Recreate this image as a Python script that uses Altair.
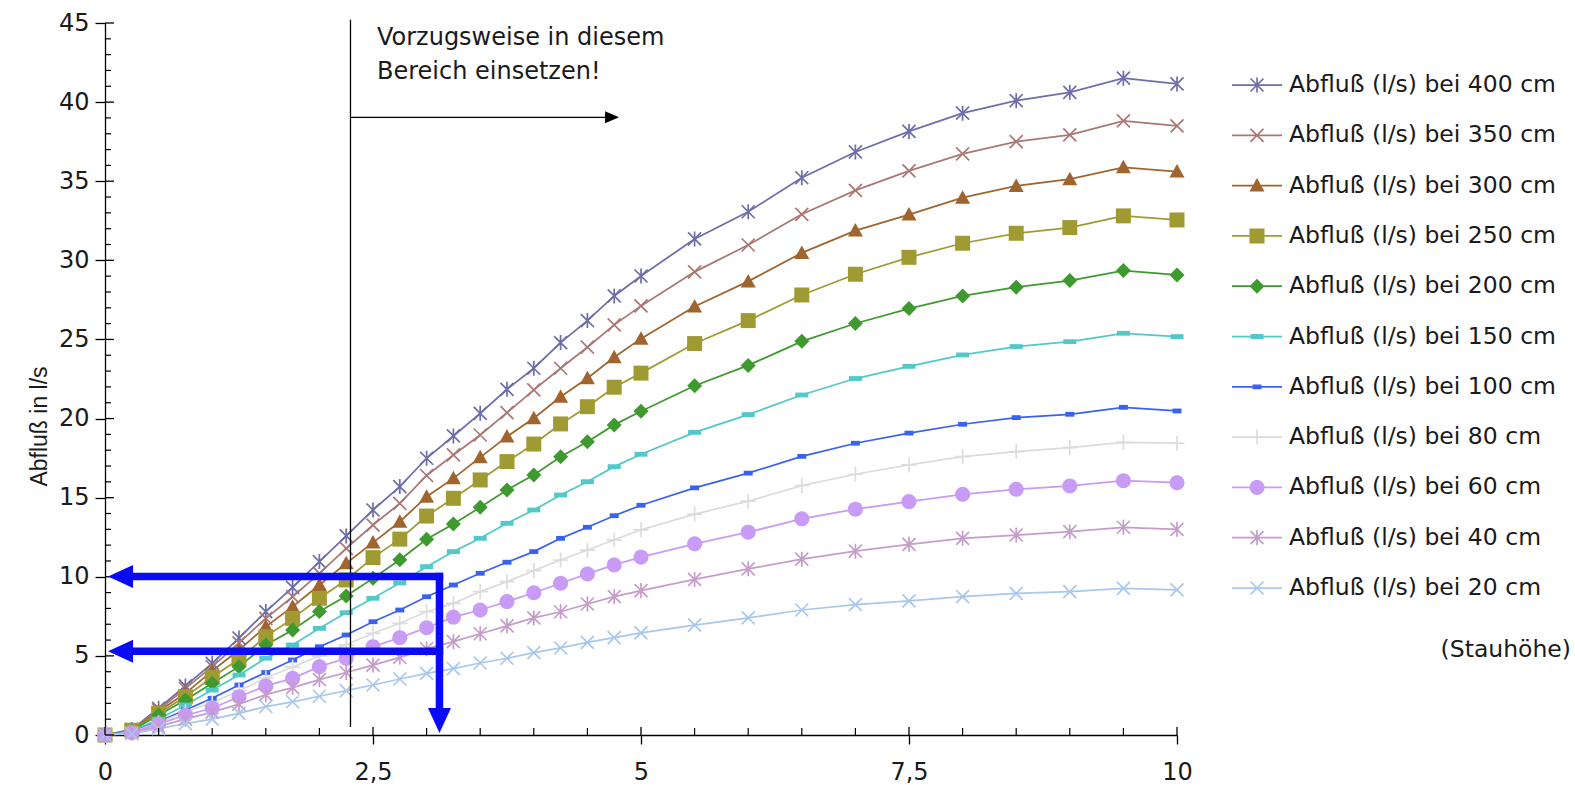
import math
import altair as alt
import pandas as pd

# ---------------- data ----------------
x_vals = [0, 0.25, 0.5, 0.75, 1, 1.25, 1.5, 1.75, 2, 2.25, 2.5, 2.75, 3, 3.25, 3.5,
          3.75, 4, 4.25, 4.5, 4.75, 5, 5.5, 6, 6.5, 7, 7.5, 8, 8.5, 9, 9.5, 10]

q400 = [0, 0.35, 1.69, 3.10, 4.53, 6.13, 7.80, 9.33, 10.96, 12.58, 14.22, 15.70, 17.49, 18.90, 20.33,
        21.85, 23.18, 24.80, 26.19, 27.75, 29.01, 31.35, 33.07, 35.22, 36.85, 38.15, 39.30, 40.09, 40.62, 41.51, 41.15]
q350 = [0, 0.33, 1.58, 2.95, 4.32, 5.82, 7.37, 8.74, 10.22, 11.80, 13.27, 14.64, 16.40, 17.70, 18.96,
        20.37, 21.81, 23.18, 24.51, 25.92, 27.12, 29.27, 30.97, 32.91, 34.42, 35.65, 36.73, 37.50, 37.93, 38.81, 38.50]
q300 = [0, 0.30, 1.50, 2.63, 4.05, 5.37, 6.85, 8.11, 9.48, 10.85, 12.16, 13.48, 15.06, 16.22, 17.55,
        18.86, 20.02, 21.38, 22.55, 23.87, 25.05, 27.08, 28.67, 30.47, 31.88, 32.89, 33.96, 34.70, 35.13, 35.88, 35.61]
q250 = [0, 0.30, 1.37, 2.42, 3.65, 4.80, 6.21, 7.37, 8.64, 9.80, 11.21, 12.38, 13.84, 14.96, 16.12,
        17.28, 18.39, 19.66, 20.75, 21.98, 22.87, 24.74, 26.19, 27.81, 29.12, 30.19, 31.08, 31.71, 32.07, 32.81, 32.55]
q200 = [0, 0.27, 1.26, 2.21, 3.27, 4.32, 5.69, 6.64, 7.80, 8.79, 9.90, 11.08, 12.37, 13.34, 14.39,
        15.49, 16.43, 17.59, 18.54, 19.60, 20.46, 22.07, 23.36, 24.88, 26.01, 26.95, 27.75, 28.30, 28.72, 29.35, 29.08]
q150 = [0, 0.23, 1.00, 1.90, 2.84, 3.79, 4.85, 5.69, 6.74, 7.73, 8.64, 9.61, 10.64, 11.59, 12.43,
        13.38, 14.22, 15.17, 16.01, 16.96, 17.74, 19.13, 20.25, 21.49, 22.53, 23.30, 24.02, 24.55, 24.86, 25.39, 25.18]
q100 = [0, 0.19, 0.85, 1.58, 2.32, 3.16, 3.95, 4.74, 5.58, 6.32, 7.16, 7.90, 8.74, 9.48, 10.22,
        10.92, 11.59, 12.43, 13.13, 13.86, 14.52, 15.62, 16.55, 17.61, 18.44, 19.08, 19.64, 20.06, 20.27, 20.71, 20.48]
q80 = [0, 0.17, 0.78, 1.47, 2.05, 2.80, 3.60, 4.30, 5.00, 5.70, 6.43, 7.06, 7.79, 8.32, 9.06,
       9.69, 10.39, 11.06, 11.69, 12.33, 12.97, 13.96, 14.78, 15.76, 16.48, 17.07, 17.59, 17.91, 18.16, 18.50, 18.44]
q60 = [0, 0.15, 0.70, 1.25, 1.69, 2.42, 3.10, 3.58, 4.32, 4.85, 5.58, 6.15, 6.78, 7.45, 7.90,
       8.43, 8.99, 9.59, 10.18, 10.75, 11.24, 12.08, 12.82, 13.66, 14.27, 14.75, 15.21, 15.53, 15.74, 16.07, 15.95]
q40 = [0, 0.12, 0.55, 1.00, 1.45, 1.95, 2.55, 3.00, 3.50, 3.95, 4.42, 4.91, 5.45, 5.90, 6.40,
       6.90, 7.40, 7.79, 8.28, 8.74, 9.13, 9.83, 10.50, 11.11, 11.62, 12.05, 12.43, 12.64, 12.85, 13.13, 13.00]
q20 = [0, 0.08, 0.40, 0.72, 1.00, 1.37, 1.80, 2.10, 2.45, 2.80, 3.16, 3.54, 3.90, 4.20, 4.55,
       4.85, 5.20, 5.50, 5.85, 6.15, 6.45, 6.95, 7.40, 7.90, 8.24, 8.48, 8.74, 8.95, 9.06, 9.27, 9.17]

series_names = [
    "Abfluß (l/s) bei 400 cm", "Abfluß (l/s) bei 350 cm", "Abfluß (l/s) bei 300 cm",
    "Abfluß (l/s) bei 250 cm", "Abfluß (l/s) bei 200 cm", "Abfluß (l/s) bei 150 cm",
    "Abfluß (l/s) bei 100 cm", "Abfluß (l/s) bei 80 cm", "Abfluß (l/s) bei 60 cm",
    "Abfluß (l/s) bei 40 cm", "Abfluß (l/s) bei 20 cm",
]
series_values = [q400, q350, q300, q250, q200, q150, q100, q80, q60, q40, q20]
series_colors = ["#6E6EAA", "#AA7874", "#A0642E", "#A09A32", "#3E9A2E", "#52C8C8",
                 "#3A62F2", "#DCDCDC", "#C89BF7", "#C69CCB", "#A9C7EC"]
series_markers = ["star", "x", "tri", "square", "diamond", "dash", "dash_s", "plus", "circle", "star", "x"]

legend_note = ["(Stauhöhe)"]
y_title = "Abfluß in l/s"
note_text = "Vorzugsweise in diesem\nBereich einsetzen!"

x_major = [0, 2.5, 5, 7.5, 10]
x_minor = [0.5, 1, 1.5, 2, 3, 3.5, 4, 4.5, 5.5, 6, 6.5, 7, 8, 8.5, 9, 9.5]
y_major = [0, 5, 10, 15, 20, 25, 30, 35, 40, 45]
y_minor = [v for v in range(1, 45) if v % 5]

# annotations (data coordinates)
range_line = {"x": [2.29], "y": [0.5], "y2": [45.2]}
range_arrow = {"x": [2.29], "x2": [4.73], "y": [39.04]}
range_head = {"x": [4.73], "y": [39.04]}
note_pos = {"x": [2.537], "y": [43.62], "t": [note_text]}
blue_segments = {"x": [0.15, 0.15, 3.12], "x2": [3.12, 3.12, 3.12],
                 "y": [10.02, 5.3, 10.02], "y2": [10.02, 5.3, 1.0]}
blue_left_heads = {"x": [0.145, 0.145], "y": [10.02, 5.3]}
blue_down_head = {"x": [3.12], "y": [0.92]}

rows = []
for name, vals in zip(series_names, series_values):
    for xv, yv in zip(x_vals, vals):
        rows.append({"series": name, "x": xv, "y": yv})
df = pd.DataFrame(rows)


# ---------------- marker geometry (styling) ----------------
def _orient(pts):
    n = len(pts)
    a = sum(pts[i][0] * pts[(i + 1) % n][1] - pts[(i + 1) % n][0] * pts[i][1] for i in range(n))
    return pts if a > 0 else pts[::-1]


def _bar(x1, y1, x2, y2, t):
    dx, dy = x2 - x1, y2 - y1
    L = math.hypot(dx, dy)
    nx, ny = -dy / L * t / 2, dx / L * t / 2
    return [(x1 + nx, y1 + ny), (x2 + nx, y2 + ny), (x2 - nx, y2 - ny), (x1 - nx, y1 - ny)]


def _rect(hw, hh):
    return [(-hw, -hh), (hw, -hh), (hw, hh), (-hw, hh)]


def marker_polys(kind):
    t = 1.7
    if kind == "star":
        return [_bar(0, -7.5, 0, 7.5, t), _bar(-6.5, -6.5, 6.5, 6.5, t), _bar(-6.5, 6.5, 6.5, -6.5, t)]
    if kind == "x":
        return [_bar(-6.5, -6.5, 6.5, 6.5, t), _bar(-6.5, 6.5, 6.5, -6.5, t)]
    if kind == "plus":
        return [_bar(-7.5, 0, 7.5, 0, t), _bar(0, -7.5, 0, 7.5, t)]
    if kind == "tri":
        return [[(0, -7.5), (7.5, 6), (-7.5, 6)]]
    if kind == "square":
        return [_rect(7.5, 7.5)]
    if kind == "diamond":
        return [[(0, -7.5), (7.5, 0), (0, 7.5), (-7.5, 0)]]
    if kind == "dash":
        return [_rect(6.5, 2.4)]
    if kind == "dash_s":
        return [_rect(4.5, 2.4)]
    if kind == "circle":
        return [[(7.5 * math.cos(2 * math.pi * k / 28), 7.5 * math.sin(2 * math.pi * k / 28)) for k in range(28)]]
    return []


def to_path(polys, unit):
    out = []
    for p in polys:
        p = _orient(p)
        out.append("M" + "L".join(f"{px / unit:.4f},{py / unit:.4f}" for px, py in p) + "Z")
    return "".join(out)


PLOT_SIZE = 100      # r = 5 px
LEG_SIZE = 2500      # r = 25 px
plot_paths = [to_path(marker_polys(m), 5.0) for m in series_markers]
legend_paths = [to_path([_bar(-25, 0, 25, 0, 1.75)] + marker_polys(m), 25.0) for m in series_markers]

FONT = "DejaVu Sans"
TXT = "#1a1a1a"
W, H = 1072, 712

xs = alt.Scale(domain=[0, 10], nice=False, zero=False)
ys = alt.Scale(domain=[0, 45], nice=False, zero=False)

x_axis = alt.Axis(values=x_major, labelExpr="replace(format(datum.value, '.1~f'), '.', ',')",
                  title=None, grid=False,
                  domainColor="#000", domainWidth=1.3, tickColor="#000", tickWidth=1.3, tickSize=9,
                  labelFont=FONT, labelFontSize=24, labelColor=TXT, labelPadding=35,
                  labelBaseline="alphabetic", labelFlush=False, labelOverlap=False)
y_axis = alt.Axis(values=y_major, format="d", title=y_title, grid=False,
                  domainColor="#000", domainWidth=1.3, tickColor="#000", tickWidth=1.3, tickSize=10,
                  labelFont=FONT, labelFontSize=24, labelColor=TXT, labelPadding=6,
                  labelOverlap=False,
                  titleFont="Liberation Sans", titleFontSize=23, titleFontWeight="normal",
                  titleColor=TXT, titleAngle=270, titleX=-66, titleY=403,
                  titleAlign="center", titleBaseline="middle")


def X(field):
    return alt.X(field, scale=xs, axis=x_axis)


def Y(field):
    return alt.Y(field, scale=ys, axis=y_axis)


base = alt.Chart(df)
color_plot = alt.Color("series:N", scale=alt.Scale(domain=series_names, range=series_colors), legend=None)

lines = base.mark_line(strokeWidth=1.75).encode(x=X("x:Q"), y=Y("y:Q"), color=color_plot)
points = base.mark_point(filled=True, size=PLOT_SIZE, opacity=1, strokeWidth=0).encode(
    x=X("x:Q"), y=Y("y:Q"), color=color_plot,
    shape=alt.Shape("series:N", scale=alt.Scale(domain=series_names, range=plot_paths), legend=None),
)
plot = alt.layer(lines, points)

leg = alt.Legend(orient="none", legendX=1127, legendY=37, title=None,
                 labelFont=FONT, labelFontSize=23.5, labelColor=TXT, labelOffset=7, labelLimit=500,
                 symbolSize=LEG_SIZE, symbolStrokeWidth=0, symbolOpacity=1,
                 rowPadding=13.3, padding=0, direction="vertical")
legend_layer = base.transform_filter("false").mark_point(filled=True, size=LEG_SIZE, opacity=1, strokeWidth=0).encode(
    x=X("x:Q"), y=Y("y:Q"),
    color=alt.Color("series:N", scale=alt.Scale(domain=series_names, range=series_colors), legend=leg),
    shape=alt.Shape("series:N", scale=alt.Scale(domain=series_names, range=legend_paths), legend=leg),
)
legend_caption = alt.Chart(pd.DataFrame({"t": legend_note})).mark_text(
    align="right", baseline="middle", font=FONT, fontSize=23.5, color=TXT).encode(
    text="t:N", x=alt.value(1466), y=alt.value(627))

# inward tick marks
ymaj_in = alt.Chart(pd.DataFrame({"y": y_major})).mark_rule(color="#000", strokeWidth=1.3).encode(
    y=Y("y:Q"), x=alt.value(0), x2=alt.value(9))
ymin_in = alt.Chart(pd.DataFrame({"y": y_minor})).mark_rule(color="#000", strokeWidth=1.2).encode(
    y=Y("y:Q"), x=alt.value(0), x2=alt.value(6))
xmaj_in = alt.Chart(pd.DataFrame({"x": x_major})).mark_rule(color="#000", strokeWidth=1.3).encode(
    x=X("x:Q"), y=alt.value(H), y2=alt.value(H - 8))
xmin_in = alt.Chart(pd.DataFrame({"x": x_minor})).mark_rule(color="#000", strokeWidth=1.2).encode(
    x=X("x:Q"), y=alt.value(H), y2=alt.value(H - 7))

# annotation: preferred range
vline = alt.Chart(pd.DataFrame(range_line)).mark_rule(color="#000", strokeWidth=1.3).encode(
    x=X("x:Q"), y=Y("y:Q"), y2="y2:Q")
harrow = alt.Chart(pd.DataFrame(range_arrow)).mark_rule(color="#000", strokeWidth=1.3).encode(
    x=X("x:Q"), x2="x2:Q", y=Y("y:Q"))
hhead = alt.Chart(pd.DataFrame(range_head)).mark_point(
    shape="M1,0L-1,-0.85L-1,0.85Z", filled=True, size=196, color="#000", opacity=1, strokeWidth=0).encode(
    x=X("x:Q"), y=Y("y:Q"))
note = alt.Chart(pd.DataFrame(note_pos)).mark_text(
    align="left", baseline="alphabetic", font=FONT, fontSize=24, color=TXT, lineBreak="\n", lineHeight=34).encode(
    x=X("x:Q"), y=Y("y:Q"), text="t:N")

# annotation: blue reading arrows
BLUE = "#0A0AF5"
bseg = alt.Chart(pd.DataFrame(blue_segments)).mark_rule(color=BLUE, strokeWidth=7.5, strokeCap="square").encode(
    x=X("x:Q"), x2="x2:Q", y=Y("y:Q"), y2="y2:Q")
bleft = alt.Chart(pd.DataFrame(blue_left_heads)).mark_point(
    shape="M-1,0L1,-0.92L1,0.92Z", filled=True, size=625, color=BLUE, opacity=1, strokeWidth=0).encode(
    x=X("x:Q"), y=Y("y:Q"))
bdown = alt.Chart(pd.DataFrame(blue_down_head)).mark_point(
    shape="M0,1L-0.92,-1L0.92,-1Z", filled=True, size=625, color=BLUE, opacity=1, strokeWidth=0).encode(
    x=X("x:Q"), y=Y("y:Q"))

chart = alt.layer(
    plot,
    ymaj_in, ymin_in, xmaj_in, xmin_in,
    vline, harrow, hhead, note,
    legend_layer, legend_caption,
    bseg, bleft, bdown,
).resolve_scale(color="independent", shape="independent").properties(
    width=W, height=H,
    autosize=alt.AutoSizeParams(type="none"),
    padding={"left": 105, "top": 23, "right": 398, "bottom": 50},
    background="white",
).configure_view(stroke=None)

chart.save("out.html", embed_options={"renderer": "svg", "actions": False})
